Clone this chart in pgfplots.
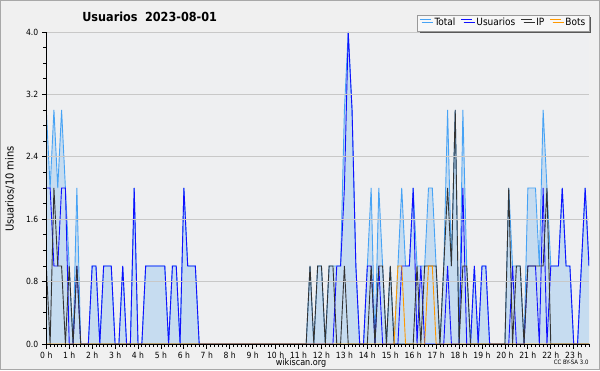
\documentclass[border=0pt]{standalone}
\usepackage{fontspec}
\setmainfont{DejaVu Sans Condensed}
\usepackage{pgfplots}
\pgfplotsset{compat=1.18}
\usepackage{pgfplotstable}
\usetikzlibrary{shadows}
\definecolor{outerbg}{HTML}{F0F0F0}
\definecolor{plotbg}{HTML}{EEEFF1}
\definecolor{framegray}{HTML}{A8A8A8}
\definecolor{gridgray}{HTML}{C8C8C8}
\definecolor{fillblue}{HTML}{C6DCF0}
\definecolor{totalblue}{HTML}{47A3F5}
\definecolor{userblue}{HTML}{1010FF}
\definecolor{ipgray}{HTML}{333333}
\definecolor{botorange}{HTML}{FF9900}

\pgfplotstableread{
i U IP B T
0 2 1 0 3
1 2 0 0 2
2 1 2 0 3
3 1 1 0 2
4 2 1 0 3
5 2 0 0 2
6 0 1 0 1
7 0 0 0 0
8 1 1 0 2
9 0 0 0 0
10 0 0 0 0
11 0 0 0 0
12 1 0 0 1
13 1 0 0 1
14 0 0 0 0
15 1 0 0 1
16 1 0 0 1
17 1 0 0 1
18 0 0 0 0
19 0 0 0 0
20 1 0 0 1
21 0 0 0 0
22 0 0 0 0
23 2 0 0 2
24 0 0 0 0
25 0 0 0 0
26 1 0 0 1
27 1 0 0 1
28 1 0 0 1
29 1 0 0 1
30 1 0 0 1
31 1 0 0 1
32 0 0 0 0
33 1 0 0 1
34 1 0 0 1
35 0 0 0 0
36 2 0 0 2
37 1 0 0 1
38 1 0 0 1
39 1 0 0 1
40 0 0 0 0
41 0 0 0 0
42 0 0 0 0
43 0 0 0 0
44 0 0 0 0
45 0 0 0 0
46 0 0 0 0
47 0 0 0 0
48 0 0 0 0
49 0 0 0 0
50 0 0 0 0
51 0 0 0 0
52 0 0 0 0
53 0 0 0 0
54 0 0 0 0
55 0 0 0 0
56 0 0 0 0
57 0 0 0 0
58 0 0 0 0
59 0 0 0 0
60 0 0 0 0
61 0 0 0 0
62 0 0 0 0
63 0 0 0 0
64 0 0 0 0
65 0 0 0 0
66 0 0 0 0
67 0 0 0 0
68 0 0 0 0
69 0 1 0 1
70 0 0 0 0
71 0 1 0 1
72 0 1 0 1
73 0 0 0 0
74 0 1 0 1
75 0 1 0 1
76 1 0 0 1
77 1 0 0 1
78 2 1 0 3
79 4 0 0 4
80 3 0 0 3
81 1 0 0 1
82 0 0 0 0
83 0 0 0 0
84 1 0 0 1
85 1 1 0 2
86 0 0 0 0
87 1 1 0 2
88 0 1 0 1
89 0 0 0 0
90 0 1 0 1
91 0 0 0 0
92 0 0 1 1
93 1 0 1 2
94 1 0 0 1
95 1 0 0 1
96 2 0 0 2
97 0 1 0 1
98 1 0 0 1
99 0 1 0 1
100 0 1 1 2
101 0 1 1 2
102 0 1 0 1
103 0 0 0 0
104 0 1 0 1
105 1 2 0 3
106 0 1 0 1
107 0 3 0 3
108 0 0 0 0
109 2 1 0 3
110 0 1 0 1
111 0 0 0 0
112 1 0 0 1
113 0 0 0 0
114 1 0 0 1
115 1 0 0 1
116 0 0 0 0
117 0 0 0 0
118 0 0 0 0
119 0 0 0 0
120 0 0 0 0
121 0 2 0 2
122 1 0 0 1
123 0 1 0 1
124 0 1 0 1
125 0 0 0 0
126 1 1 0 2
127 1 1 0 2
128 1 1 0 2
129 0 1 0 1
130 2 1 0 3
131 0 2 0 2
132 1 0 0 1
133 1 0 0 1
134 1 0 0 1
135 2 0 0 2
136 1 0 0 1
137 1 0 0 1
138 0 0 0 0
139 0 0 0 0
140 1 0 0 1
141 2 0 0 2
142 1 0 0 1
}\datatable

\begin{document}
\begin{tikzpicture}[x=1pt,y=1pt]
\useasboundingbox (-46.3,-26) rectangle (553.7,344);
\fill[outerbg] (-46.3,-26) rectangle (553.7,344);
\draw[framegray, line width=1.5pt] (-45.55,-25.25) rectangle (552.95,343.25);
\begin{axis}[
  scale only axis, width=542.7pt, height=312pt,
  xmin=0, xmax=142, ymin=0, ymax=4,
  axis x line*=bottom, axis y line*=left,
  axis line style={black, line width=0.8pt},
  axis background/.style={fill=plotbg},
  axis on top,
  xtick={0,6,...,138},
  xticklabels={0 h,1 h,2 h,3 h,4 h,5 h,6 h,7 h,8 h,9 h,10 h,11 h,12 h,13 h,14 h,15 h,16 h,17 h,18 h,19 h,20 h,21 h,22 h,23 h},
  minor xtick={0,1,...,142},
  ytick={0,0.8,1.6,2.4,3.2,4.0},
  minor ytick={0,0.2,...,4.01},
  tick align=outside,
  major tick length=4.5pt, minor tick length=3pt,
  tick style={black, line width=0.8pt},
  ymajorgrids, grid style={gridgray, line width=0.8pt},
  /pgf/number format/assume math mode=true,
  yticklabel style={/pgf/number format/fixed, /pgf/number format/fixed zerofill, /pgf/number format/precision=1, font=\fontsize{8.5}{9}\selectfont},
  xticklabel style={font=\fontsize{8.5}{9}\selectfont},
  legend columns=4,
  legend style={at={(1.0,1.003)}, anchor=south east, draw=gray!80, fill=white!97!black,
    font=\fontsize{10}{11}\selectfont, inner sep=1.5pt,
    drop shadow={shadow xshift=2.2pt, shadow yshift=-2.2pt, fill=black!65, opacity=1},
    /tikz/every odd column/.append style={column sep=1.5pt},
    /tikz/every even column/.append style={column sep=3.5pt}},
  legend cell align=left,
]
\addplot[draw=none, fill=fillblue, forget plot] table[x=i,y=T]{\datatable} \closedcycle;
\addplot[totalblue, line width=0.9pt, legend image code/.code={\draw[totalblue, line width=1pt] (0pt,3pt) -- (11pt,3pt);}] table[x=i,y=T]{\datatable};
\addlegendentry{Total}
\addplot[userblue, line width=0.9pt, legend image code/.code={\draw[userblue, line width=1pt] (0pt,3pt) -- (11pt,3pt);}] table[x=i,y=U]{\datatable};
\addlegendentry{Usuarios}
\addplot[ipgray, line width=0.9pt, legend image code/.code={\draw[ipgray, line width=1pt] (0pt,3pt) -- (11pt,3pt);}] table[x=i,y=IP]{\datatable};
\addlegendentry{IP}
\addplot[botorange, line width=0.9pt, legend image code/.code={\draw[botorange, line width=1pt] (0pt,3pt) -- (11pt,3pt);}] table[x=i,y=B]{\datatable};
\addlegendentry{Bots}
\end{axis}
\node[font=\bfseries\fontsize{12.5}{14}\selectfont, anchor=west] at (32.5,327) {Usuarios\hspace{0.6em}2023-08-01};
\node[rotate=90, font=\fontsize{11}{13}\selectfont] at (-36.3,155) {Usuarios/10 mins};
\node[font=\fontsize{9}{11}\selectfont] at (254.7,-19.5) {wikiscan.org};
\node[anchor=east, font=\fontsize{6}{7}\selectfont] at (545.7,-18.5) {CC BY-SA 3.0};
\end{tikzpicture}
\end{document}
